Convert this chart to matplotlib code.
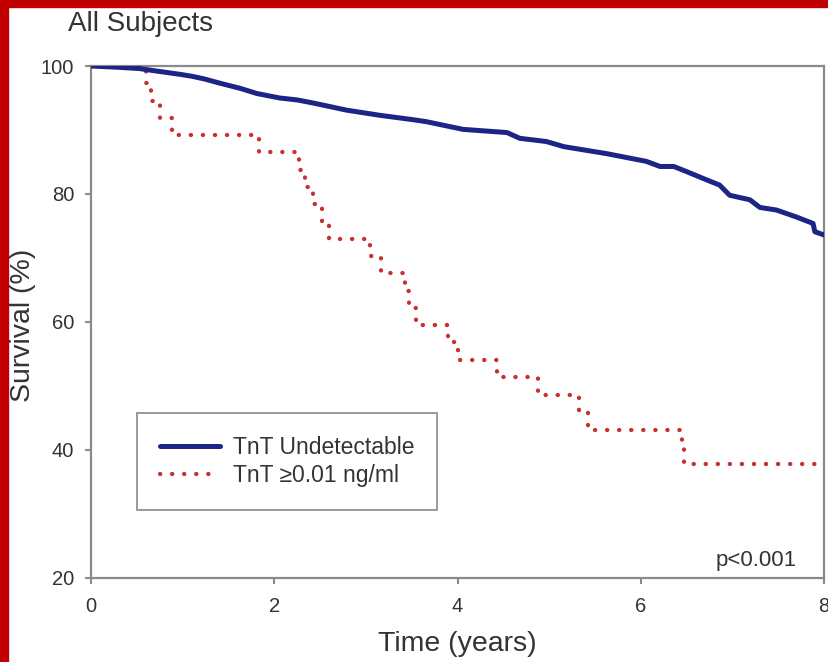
import matplotlib
matplotlib.use("Agg")
import matplotlib.pyplot as plt
from matplotlib.patches import Rectangle

plt.rcParams['font.family'] = ['Liberation Sans', 'DejaVu Sans']

# TnT undetectable group
blue_t = [0.0, 0.30, 0.53, 0.72, 0.97, 1.10, 1.23, 1.41, 1.63, 1.81, 2.06, 2.25, 2.43, 2.79,
          3.15, 3.52, 3.66, 4.06, 4.54, 4.68, 4.97, 5.16, 5.63, 6.06, 6.21, 6.36, 6.50, 6.72,
          6.86, 6.97, 7.19, 7.30, 7.48, 7.70, 7.88, 7.90, 8.0]
blue_s = [100.0, 99.8, 99.6, 99.2, 98.7, 98.4, 98.0, 97.3, 96.5, 95.7, 95.0, 94.7, 94.2, 93.1,
          92.3, 91.6, 91.3, 90.1, 89.6, 88.7, 88.2, 87.4, 86.3, 85.1, 84.3, 84.3, 83.5, 82.2,
          81.4, 79.8, 79.1, 77.9, 77.5, 76.4, 75.4, 74.1, 73.6]

# TnT >= 0.01 ng/ml group: event times and survival after each event
red_t = [0.0, 0.60, 0.66, 0.75, 0.88, 1.83, 2.27, 2.33, 2.42, 2.52, 2.60, 3.05, 3.17,
         3.43, 3.47, 3.55, 3.90, 4.00, 4.43, 4.88, 5.33, 5.42, 6.45, 6.47, 8.0]
red_s = [100.0, 97.3, 94.6, 91.9, 89.2, 86.5, 83.8, 81.1, 78.4, 75.7, 73.0, 70.3, 67.6,
         64.9, 62.2, 59.5, 56.8, 54.1, 51.4, 48.6, 45.9, 43.2, 40.5, 37.8, 37.8]

x_ticks = [0, 2, 4, 6, 8]
y_ticks = [20, 40, 60, 80, 100]

fig = plt.figure(figsize=(8.29, 6.62), dpi=100)
ax = fig.add_axes([0.1098, 0.1269, 0.8842, 0.7734])

ax.plot(blue_t, blue_s, color='#1c2585', lw=3.6, solid_joinstyle='round',
        solid_capstyle='round', label='TnT Undetectable', zorder=3)
ax.plot(red_t, red_s, drawstyle='steps-post', color='#c8302e', lw=3.1,
        linestyle=(0, (0.05, 2.75)), dash_capstyle='round',
        label='TnT \u22650.01 ng/ml', zorder=2)

ax.set_xlim(0, 8)
ax.set_ylim(20, 100)
ax.set_xticks(x_ticks)
ax.set_yticks(y_ticks)
ax.tick_params(axis='both', direction='out', length=4.5, width=1.5, color='#8a8a8a',
               labelsize=14.5, labelcolor='#333333')
ax.tick_params(axis='y', pad=7.5)
ax.tick_params(axis='x', pad=9)
for s in ax.spines.values():
    s.set_color('#8a8a8a')
    s.set_linewidth(1.6)

ax.set_xlabel('Time (years)', fontsize=20.5, color='#333333', va='top')
ax.xaxis.set_label_coords(0.5, -0.103)
ax.set_ylabel('Survival (%)', fontsize=20.5, color='#333333')
ax.yaxis.set_label_coords(-0.075, 0.494)

leg = ax.legend(loc='lower left', bbox_to_anchor=(0.0628, 0.133), borderaxespad=0,
                fontsize=16.5, handlelength=2.6, handletextpad=0.57, borderpad=1.0,
                labelspacing=0.2, fancybox=False, framealpha=1, edgecolor='#9a9a9a')
leg.get_frame().set_linewidth(1.4)
for t in leg.get_texts():
    t.set_color('#333333')

ax.text(0.963, 0.035, 'p<0.001', transform=ax.transAxes, ha='right', va='center',
        fontsize=16, color='#333333')

fig.text(68 / 829, 1 - 24 / 662, 'All Subjects', ha='left', va='center',
         fontsize=20, color='#333333')

# red frame around the slide
fig.patches.append(Rectangle((0, 0), 8 / 829, 1, transform=fig.transFigure,
                             color='#c00000', zorder=10))
fig.patches.append(Rectangle((0, 1 - 7 / 662), 1, 7 / 662, transform=fig.transFigure,
                             color='#c00000', zorder=10))

fig.savefig('out.png', dpi=100)
